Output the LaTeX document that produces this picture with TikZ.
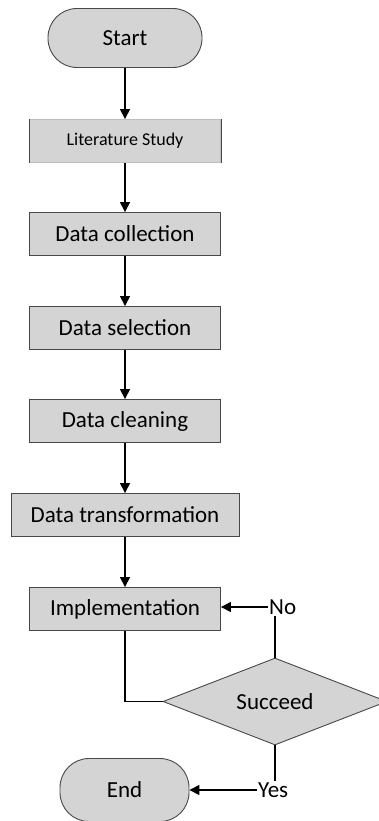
\documentclass[tikz,border=0pt]{standalone}
\usepackage{fontspec}
\setmainfont{Carlito}
\usetikzlibrary{positioning,shapes.geometric,arrows.meta}

\begin{document}
\begin{tikzpicture}[x=1pt,y=-1pt,
  box/.style={draw=boxLine, fill=boxFill, line width=0.9pt, inner sep=0pt,
    minimum width=191pt, minimum height=43pt, font=\fontsize{23}{27}\selectfont},
  terminal/.style={box, minimum width=154pt, minimum height=59pt, rounded corners=29pt},
  decision/.style={diamond, draw=boxLine, fill=boxFill, line width=0.9pt, inner sep=0pt,
    aspect=2.5, minimum width=224pt, minimum height=87pt, font=\fontsize{23}{27}\selectfont},
  answer/.style={inner sep=1pt, font=\fontsize{23}{27}\selectfont},
  flow/.style={-{Triangle[length=10pt,width=10pt]}, line width=1.5pt},
  link/.style={line width=1.5pt}]
% Colors
\definecolor{boxFill}{RGB}{212,212,212}
\definecolor{boxLine}{RGB}{72,72,72}
\definecolor{softLine}{RGB}{190,190,190}
\useasboundingbox (0,0) rectangle (378,821);
% Steps
\node[terminal] (start) at (125,38) {Start};
\node[box, draw=softLine, font=\fontsize{18}{22}\selectfont] (lit) at (125,141) {Literature Study};
\draw[boxLine, line width=0.9pt] (lit.north west) -- (lit.south west);
\draw[boxLine, line width=0.9pt] (lit.north east) -- (lit.south east);
\node[box] (coll)  at (125,234) {Data collection};
\node[box] (sel)   at (125,328) {Data selection};
\node[box] (clean) at (125,421) {Data cleaning};
\node[box, minimum width=228pt] (trans) at (125,515) {Data transformation};
\node[box] (impl)  at (125,609) {Implementation};
\node[decision] (succ) at (275,701.5) {Succeed};
\node[terminal, minimum width=129pt, minimum height=63pt] (end) at (124.5,790) {End};
% Answers
\node[answer, anchor=west] (no)  at (268,607) {No};
\node[answer, anchor=west] (yes) at (257,790) {Yes};
% Main flow
\draw[flow] (start) -- (lit);
\draw[flow] (lit)   -- (coll);
\draw[flow] (coll)  -- (sel);
\draw[flow] (sel)   -- (clean);
\draw[flow] (clean) -- (trans);
\draw[flow] (trans) -- (impl);
% Loop back
\draw[link] (impl.south) |- (succ.west);
\draw[link] (succ.north) -- (succ.north |- no.south);
\draw[flow] (no.west) -- (impl.east |- no.west);
\draw[link] (succ.south) -- (succ.south |- yes.north);
\draw[flow] (yes.west) -- (end.east |- yes.west);
\end{tikzpicture}
\end{document}
